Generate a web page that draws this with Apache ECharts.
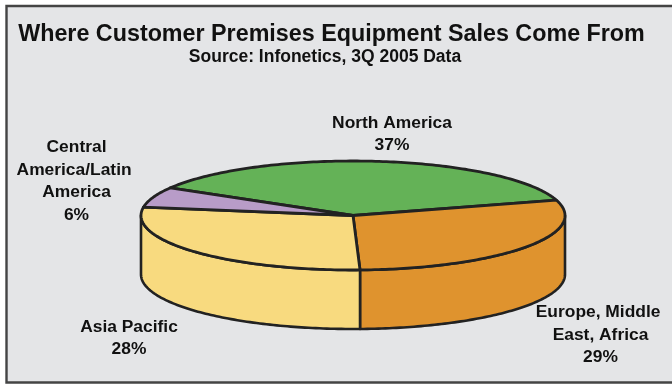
<!DOCTYPE html>
<html>
<head>
<meta charset="utf-8">
<style>html,body{margin:0;padding:0;background:#fff}#chart{width:672px;height:384px}</style>
<script src="https://cdn.jsdelivr.net/npm/echarts@6/dist/echarts.min.js"></script>
</head>
<body>
<div id="chart"></div>
<script>
// Regional shares of customer premises equipment sales, in percent
const regions = ['North America', 'Europe, Middle East, Africa', 'Asia Pacific', 'Central America/Latin America'];
const shares = [37, 29, 28, 6];
const labelLines = [
  ['North America'],
  ['Europe, Middle ', 'East, Africa'],
  ['Asia Pacific'],
  ['Central', 'America/Latin ', 'America']
];
const sliceColors = ['#64B257', '#DF932E', '#F8DA7F', '#B89CC8'];
const labelCenters = [[392, 134], [600.5, 335], [129, 338], [76.5, 181]];

// Ellipse geometry of the tilted disc
const CX = 353, CY = 215.5, RX = 212, RY = 54.5, DEPTH = 59;
const START_ANGLE = 149.5; // degrees counter-clockwise from east; slices run clockwise
const INK = '#222222';

const total = shares.reduce((a, b) => a + b, 0);
function sliceRange(i) {
  let before = 0;
  for (let k = 0; k < i; k++) before += shares[k];
  return [START_ANGLE - before / total * 360, START_ANGLE - (before + shares[i]) / total * 360];
}
function rim(deg, drop) {
  const r = deg * Math.PI / 180;
  return [CX + RX * Math.cos(r), CY - RY * Math.sin(r) + (drop || 0)];
}
function arc(from, to, drop) {
  const n = Math.max(2, Math.ceil(Math.abs(to - from)));
  const pts = [];
  for (let j = 0; j <= n; j++) pts.push(rim(from + (to - from) * j / n, drop));
  return pts;
}
const lineStyle = { stroke: INK, lineWidth: 2.6, lineJoin: 'round' };

// Front wall: only the part of a slice that lies on the near half of the ellipse
function renderWall(params, api) {
  const i = api.value(0);
  const [a0, a1] = sliceRange(i);
  const shifts = [0, -360];
  const children = [];
  shifts.forEach(s => {
    const from = Math.min(a0 + s, 0), to = Math.max(a1 + s, -180);
    if (from > to) {
      const upper = arc(from, to, 0);
      const lower = arc(to, from, DEPTH);
      children.push({
        type: 'polygon',
        shape: { points: upper.concat(lower) },
        style: Object.assign({ fill: sliceColors[i] }, lineStyle)
      });
    }
  });
  return { type: 'group', children };
}
// Top face of a slice
function renderTop(params, api) {
  const i = api.value(0);
  const [a0, a1] = sliceRange(i);
  return {
    type: 'polygon',
    shape: { points: [[CX, CY]].concat(arc(a0, a1, 0)) },
    style: Object.assign({ fill: sliceColors[i] }, lineStyle, { lineWidth: 2.8 })
  };
}
// Region name and share, centred on its anchor
function renderLabel(params, api) {
  const i = api.value(0);
  return {
    type: 'text',
    x: labelCenters[i][0],
    y: labelCenters[i][1],
    style: {
      text: labelLines[i].concat([shares[i] + '%']).join('\n'),
      align: 'center',
      verticalAlign: 'middle',
      fill: '#111111',
      font: 'bold 17.4px "Liberation Sans", Arial, sans-serif',
      lineHeight: 22.5
    }
  };
}

const rows = regions.map((name, i) => ({ name, value: [i, shares[i]] }));
const chart = echarts.init(document.getElementById('chart'), null, { renderer: 'canvas' });
chart.setOption({
  animation: false,
  backgroundColor: '#ffffff',
  graphic: [{
    type: 'rect',
    z: -10,
    shape: { x: 6.5, y: 6, width: 680, height: 376.5 },
    style: { fill: '#E4E5E7', stroke: '#444444', lineWidth: 2.4 }
  }],
  title: [{
    text: 'Where Customer Premises Equipment Sales Come From',
    left: 326.5, top: 18, textAlign: 'center',
    textStyle: { fontFamily: '"Liberation Sans", Arial, sans-serif', fontWeight: 'bold', fontSize: 23.3, color: '#111111' }
  }, {
    text: 'Source: Infonetics, 3Q 2005 Data',
    left: 320, top: 43, textAlign: 'center',
    textStyle: { fontFamily: '"Liberation Sans", Arial, sans-serif', fontWeight: 'bold', fontSize: 17.5, color: '#111111' }
  }],
  tooltip: { show: false },
  series: [
    { type: 'custom', coordinateSystem: 'none', renderItem: renderWall, data: rows, silent: true, z: 2 },
    { type: 'custom', coordinateSystem: 'none', renderItem: renderTop, data: rows, silent: true, z: 3 },
    { type: 'custom', coordinateSystem: 'none', renderItem: renderLabel, data: rows, silent: true, z: 4 }
  ]
});
</script>
</body>
</html>
